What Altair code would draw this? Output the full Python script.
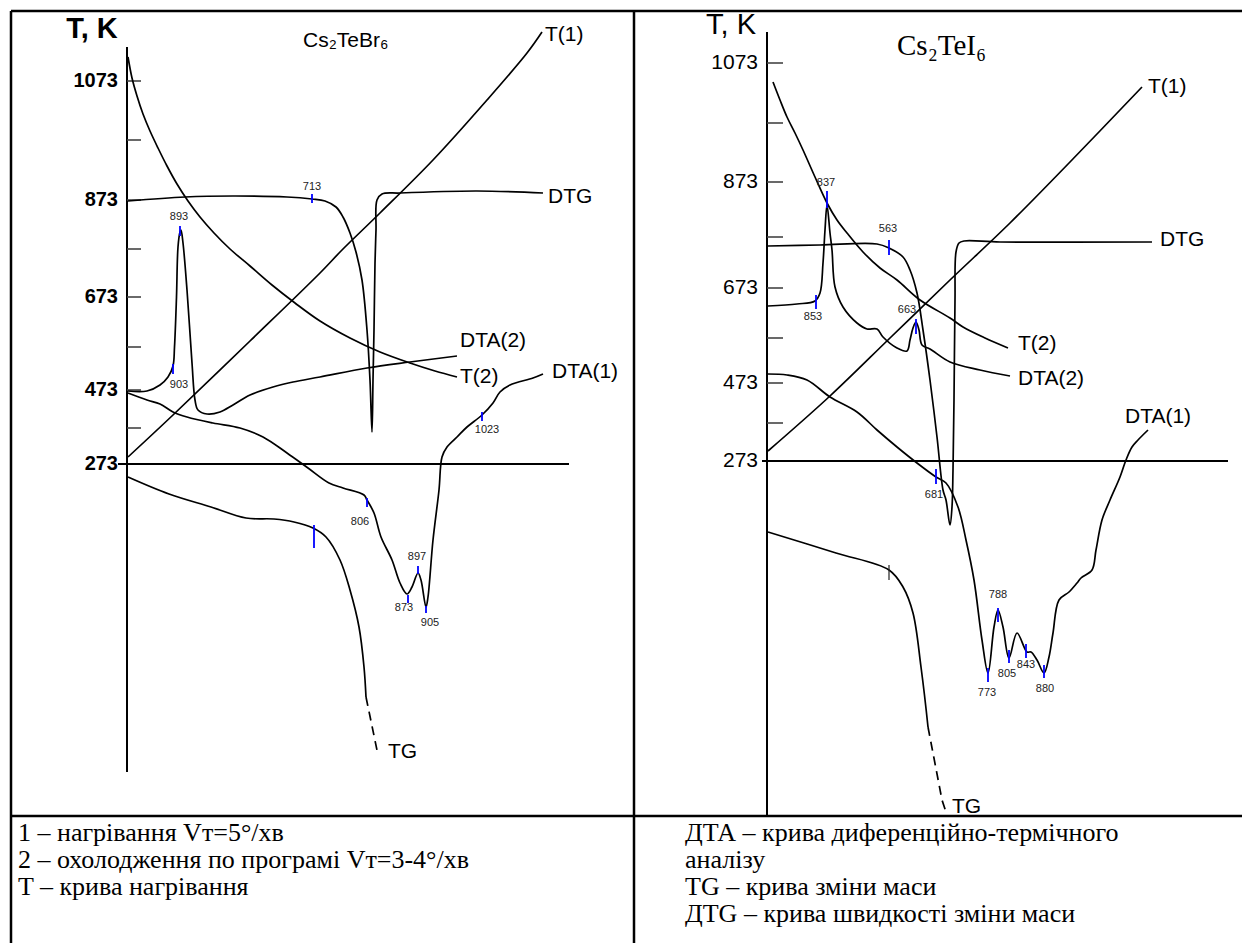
import altair as alt
import pandas as pd

# Drawing units: pixel positions (x to the right, y downward)

# ---------- left panel: Cs2TeBr6 ----------
T1_L_X = [128, 173, 250, 320, 342, 380, 433, 487, 527, 542]
T1_L_Y = [457, 415, 341, 273, 250, 213, 160, 100, 53, 32]

T2_L_X = [128, 132, 137, 143, 150, 158, 167, 177, 188, 200, 214, 230, 250, 272, 295, 320, 350, 380, 410, 435, 457]
T2_L_Y = [57, 78, 96, 114, 131, 148, 166, 184, 201, 217, 233, 249, 266, 285, 303, 321, 338, 352, 363, 371, 377]

DTG_L_X = [128, 185, 233, 287, 312, 325, 336, 343, 350, 356, 362, 367, 370, 372, 373, 374, 375, 376, 377, 382, 400, 477, 543]
DTG_L_Y = [201, 197, 196, 197, 199, 201, 207, 217, 233, 252, 280, 330, 380, 432, 380, 330, 263, 230, 200, 194, 193, 191, 193]

DTA2_L_X = [128, 147, 160, 168, 173, 174.5, 176.5, 178, 180, 181, 183, 187, 192, 195, 198, 207, 220, 233, 250, 273, 293, 320, 367, 410, 457]
DTA2_L_Y = [391, 391, 385, 377, 366, 347, 297, 247, 232, 230, 243, 290, 363, 400, 410, 414, 412, 405, 395, 387, 382, 377, 368, 362, 356]

DTA1_L_X = [128, 147, 160, 173, 187, 213, 240, 263, 287, 308, 329, 343, 364, 367, 374, 381, 392, 400, 407, 412, 418, 421, 426, 428, 433, 439, 442, 447, 457, 467, 482, 493, 500, 510, 533, 543]
DTA1_L_Y = [393, 400, 404, 412, 417, 423, 428, 437, 453, 468, 483, 488, 495, 500, 513, 537, 560, 583, 594, 587, 573, 580, 607, 597, 540, 490, 457, 447, 437, 427, 415, 403, 392, 385, 378, 374]

TG_L_X = [128, 169, 211, 246, 274, 294, 313, 326, 340, 350, 359, 364, 366]
TG_L_Y = [477, 494, 507, 518, 519, 522, 528, 537, 560, 590, 627, 667, 697]
TG_L_DASH_X = [366, 378]
TG_L_DASH_Y = [697, 755]

# ---------- right panel: Cs2TeI6 ----------
T1_R_X = [768, 830, 890, 950, 1010, 1070, 1142]
T1_R_Y = [451, 396, 338, 280, 223, 162, 87]

T2_R_X = [773, 780, 787, 795, 803, 815, 827, 837, 847, 863, 880, 897, 920, 950, 963, 985, 1008]
T2_R_Y = [82, 100, 117, 133, 150, 177, 203, 220, 233, 252, 268, 280, 300, 318, 327, 338, 348]

DTG_R_X = [768, 820, 877, 889, 903, 910, 917, 923, 930, 937, 943, 946, 950, 952, 953, 954, 955, 956, 959, 964, 1000, 1152]
DTG_R_Y = [246, 245, 244, 248, 257, 270, 293, 330, 380, 437, 490, 500, 525, 507, 470, 400, 300, 252, 243, 241, 242, 242]

DTA2_R_X = [768, 797, 815, 820, 823, 825, 827, 830, 832, 835, 843, 857, 867, 877, 883, 897, 907, 910, 913, 916, 919, 922, 930, 950, 980, 1010]
DTA2_R_Y = [306, 304, 301, 293, 263, 230, 205, 233, 250, 287, 307, 323, 329, 329, 337, 348, 351, 340, 328, 322, 330, 345, 349, 362, 370, 376]

DTA1_R_X = [768, 787, 807, 830, 857, 877, 897, 917, 936, 946, 958, 966, 974, 982, 988, 994, 998, 1003, 1009, 1017, 1027, 1031, 1037, 1044, 1049, 1053, 1059, 1069, 1077, 1081, 1092, 1096, 1102, 1110, 1120, 1126, 1132, 1138, 1148]
DTA1_R_Y = [374, 375, 380, 397, 412, 430, 447, 463, 477, 483, 507, 540, 580, 640, 673, 627, 610, 627, 658, 633, 652, 652, 660, 673, 657, 633, 600, 592, 583, 578, 570, 550, 520, 500, 477, 460, 447, 440, 430]

TG_R_X = [768, 836, 889, 903, 913, 921, 928]
TG_R_Y = [532, 553, 570, 587, 613, 667, 727]
TG_R_DASH_X = [928, 942, 946]
TG_R_DASH_Y = [727, 800, 812]

# axis ticks (y positions) and labels
TICK_L_Y = [81, 140, 200, 249, 297, 347, 390, 428]
TICK_R_Y = [63, 123, 182, 237, 288, 338, 383, 423]
TICK_LABELS = ["1073", "873", "673", "473", "273"]
TICK_LABEL_L_Y = [81, 200, 297, 390, 464]
TICK_LABEL_R_Y = [63, 182, 288, 383, 461]

# peak markers: (label, x, y_top, y_bottom, label_x, label_y)
MARK_L = [("713", 312, 194, 203, 312, 187), ("893", 180, 226, 236, 179, 217),
          ("903", 173, 364, 374, 179, 385), ("806", 367, 498, 507, 360, 522),
          ("873", 408, 595, 603, 404, 608), ("897", 418, 566, 574, 417, 557),
          ("905", 426, 606, 613, 430, 623), ("1023", 482, 412, 421, 487, 430)]
MARK_R = [("837", 827, 191, 208, 826, 183), ("563", 889, 240, 255, 888, 229),
          ("853", 816, 295, 309, 813, 317), ("663", 916, 319, 334, 907, 310),
          ("681", 936, 469, 484, 934, 495), ("773", 988, 668, 682, 987, 693),
          ("788", 998, 608, 622, 998, 595), ("805", 1009, 650, 663, 1007, 674),
          ("843", 1026, 644, 658, 1026, 665), ("880", 1044, 665, 678, 1045, 689)]
TG_MARK_L = (314, 525, 548)
TG_MARK_R = (889, 565, 580)

CURVE_LABELS = [("T(1)", 545, 35), ("DTG", 548, 197), ("DTA(2)", 460, 341), ("T(2)", 460, 377),
                ("DTA(1)", 552, 372), ("TG", 388, 752),
                ("T(1)", 1148, 87), ("DTG", 1160, 240), ("T(2)", 1018, 344), ("DTA(2)", 1018, 379),
                ("DTA(1)", 1125, 417), ("TG", 952, 807)]

NOTES_L = ["1 – нагрівання Vт=5°/хв", "2 – охолодження по програмі Vт=3-4°/хв", "T – крива нагрівання"]
NOTES_R = ["ДТА – крива диференційно-термічного", "аналізу", "TG – крива зміни маси",
           "ДТG – крива швидкості зміни маси"]
NOTES_Y = [833, 860, 887, 914]

# ---------- build tables ----------
W, H = 1234, 935
SX = alt.Scale(domain=[8, 8 + W], nice=False, zero=False)
SY = alt.Scale(domain=[8, 8 + H], nice=False, zero=False, reverse=True)


def X(f="x"):
    return alt.X(f + ":Q", scale=SX, axis=None)


def Y(f="y"):
    return alt.Y(f + ":Q", scale=SY, axis=None)


solid = {"T1_L": (T1_L_X, T1_L_Y), "T2_L": (T2_L_X, T2_L_Y), "DTG_L": (DTG_L_X, DTG_L_Y),
         "DTA2_L": (DTA2_L_X, DTA2_L_Y), "DTA1_L": (DTA1_L_X, DTA1_L_Y), "TG_L": (TG_L_X, TG_L_Y),
         "T1_R": (T1_R_X, T1_R_Y), "T2_R": (T2_R_X, T2_R_Y), "DTG_R": (DTG_R_X, DTG_R_Y),
         "DTA2_R": (DTA2_R_X, DTA2_R_Y), "DTA1_R": (DTA1_R_X, DTA1_R_Y), "TG_R": (TG_R_X, TG_R_Y)}
dashed = {"TGd_L": (TG_L_DASH_X, TG_L_DASH_Y), "TGd_R": (TG_R_DASH_X, TG_R_DASH_Y)}


def curves_df(d):
    rows = []
    for name, (xs, ys) in d.items():
        for i, (x, y) in enumerate(zip(xs, ys)):
            rows.append({"curve": name, "i": i, "x": x, "y": y})
    return pd.DataFrame(rows)


lines = alt.Chart(curves_df(solid)).mark_line(
    color="black", strokeWidth=1.7, interpolate="catmull-rom"
).encode(x=X(), y=Y(), detail="curve:N", order="i:Q")

dlines = alt.Chart(curves_df(dashed)).mark_line(
    color="black", strokeWidth=1.7, strokeDash=[9, 6]
).encode(x=X(), y=Y(), detail="curve:N", order="i:Q")

# frame / axes / ticks as segments
seg = []
seg += [(11, 11, 1250, 11, 2.5), (11, 11, 11, 951, 2.5), (634, 11, 634, 951, 2.5), (11, 816, 1250, 816, 2.5)]
seg += [(127, 47, 127, 772, 2.0), (767, 32, 767, 816, 2.0)]
seg += [(118, 464, 569, 464, 1.8), (762, 461, 1228, 461, 1.8)]
frame = pd.DataFrame(seg, columns=["x", "y", "x2", "y2", "w"])
frame_c = alt.Chart(frame).mark_rule(color="black").encode(
    x=X(), y=Y(), x2="x2:Q", y2="y2:Q", strokeWidth=alt.StrokeWidth("w:Q", scale=None))

ticks = pd.DataFrame([(127, y, 141, y) for y in TICK_L_Y] + [(767, y, 783, y) for y in TICK_R_Y],
                     columns=["x", "y", "x2", "y2"])
ticks_c = alt.Chart(ticks).mark_rule(color="#444", strokeWidth=1.6).encode(
    x=X(), y=Y(), x2="x2:Q", y2="y2:Q")

marks = pd.DataFrame([(m[1], m[2], m[1], m[3]) for m in MARK_L + MARK_R] +
                     [(TG_MARK_L[0], TG_MARK_L[1], TG_MARK_L[0], TG_MARK_L[2])],
                     columns=["x", "y", "x2", "y2"])
marks_c = alt.Chart(marks).mark_rule(color="#0000ff", strokeWidth=1.8).encode(
    x=X(), y=Y(), x2="x2:Q", y2="y2:Q")
tgmark_r = pd.DataFrame([(TG_MARK_R[0], TG_MARK_R[1], TG_MARK_R[0], TG_MARK_R[2])],
                        columns=["x", "y", "x2", "y2"])
tgmark_r_c = alt.Chart(tgmark_r).mark_rule(color="#222", strokeWidth=1.2).encode(
    x=X(), y=Y(), x2="x2:Q", y2="y2:Q")


def text_layer(rows, **kw):
    df = pd.DataFrame(rows, columns=["t", "x", "y"])
    return alt.Chart(df).mark_text(baseline="middle", **kw).encode(x=X(), y=Y(), text="t:N")


SANS = "Liberation Sans"
SERIF = "Liberation Serif"

layers = [
    frame_c, ticks_c, lines, dlines, marks_c, tgmark_r_c,
    text_layer([("T, K", 92, 29)], font=SANS, fontSize=29, fontWeight="bold", align="center"),
    text_layer([("T, K", 731, 25)], font=SANS, fontSize=29, align="center"),
    text_layer([(t, 118, y) for t, y in zip(TICK_LABELS, TICK_LABEL_L_Y)],
               font=SANS, fontSize=20, fontWeight="bold", align="right"),
    text_layer([(t, 758, y) for t, y in zip(TICK_LABELS, TICK_LABEL_R_Y)],
               font=SANS, fontSize=21, align="right"),
    text_layer([("Cs₂TeBr₆", 303, 41)], font=SANS, fontSize=21, align="left"),
    text_layer([("Cs₂TeI₆", 897, 46)], font=SERIF, fontSize=29, align="left"),
    text_layer(CURVE_LABELS, font=SANS, fontSize=21, align="left"),
    text_layer([(m[0], m[4], m[5]) for m in MARK_L + MARK_R],
               font=SANS, fontSize=11, align="center", color="#222"),
    text_layer([(t, 18, y) for t, y in zip(NOTES_L, NOTES_Y)], font=SERIF, fontSize=26, align="left"),
    text_layer([(t, 685, y) for t, y in zip(NOTES_R, NOTES_Y)], font=SERIF, fontSize=26, align="left"),
]

chart = alt.layer(*layers).properties(
    width=W, height=H, padding=0, autosize=alt.AutoSizeParams(type="none"),
    background="white"
).configure_view(stroke=None)

chart.save("out.html", embed_options={"renderer": "svg", "actions": False})
